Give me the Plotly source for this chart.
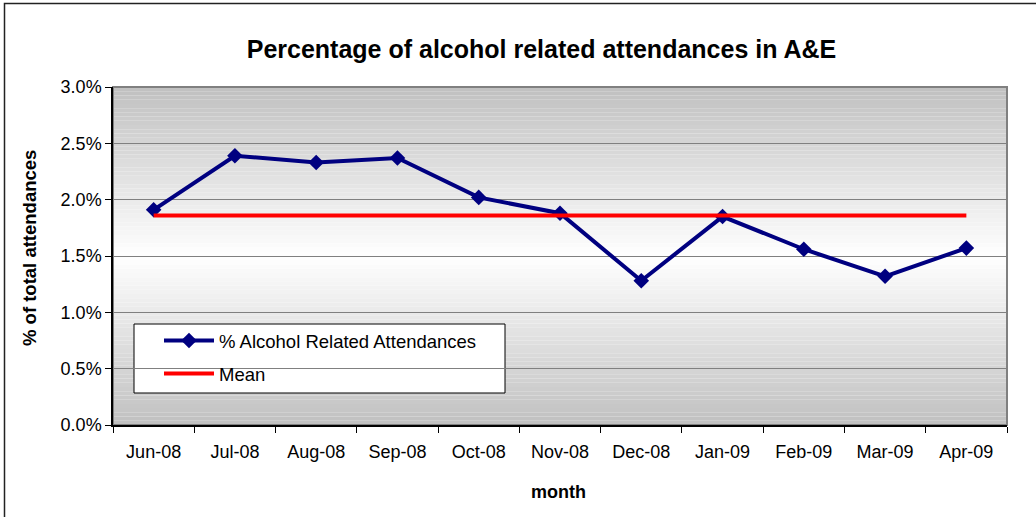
import plotly.graph_objects as go

months = ["Jun-08", "Jul-08", "Aug-08", "Sep-08", "Oct-08", "Nov-08",
          "Dec-08", "Jan-09", "Feb-09", "Mar-09", "Apr-09"]
pct_alcohol = [1.91, 2.39, 2.33, 2.37, 2.02, 1.88, 1.28, 1.85, 1.56, 1.32, 1.57]
mean_pct = [1.86] * len(months)
y_ticks = [0.0, 0.5, 1.0, 1.5, 2.0, 2.5, 3.0]

FONT = "Liberation Sans, Arial, sans-serif"

fig = go.Figure()
fig.add_trace(go.Scatter(
    x=months, y=pct_alcohol, name="% Alcohol Related Attendances",
    mode="lines+markers", legendgroup="a",
    line=dict(color="#000080", width=4),
    marker=dict(symbol="diamond", size=12, color="#000080"),
))
fig.add_trace(go.Scatter(
    x=months, y=mean_pct, name="Mean", mode="lines", legendgroup="b",
    line=dict(color="#FF0000", width=4),
))

shapes = []
N = 80
for i in range(N):
    t = (i + 0.5) / N
    d = abs(t - 0.5) * 2
    v = int(round(255 - (255 - 192) * d))
    shapes.append(dict(type="rect", xref="x domain", yref="y domain",
                       x0=0, x1=1, y0=i / N, y1=(i + 1) / N,
                       fillcolor=f"rgb({v},{v},{v})", line=dict(width=0),
                       layer="below"))
# plot border (top/right gray)
shapes.append(dict(type="rect", xref="x domain", yref="y domain",
                   x0=0, x1=1, y0=0, y1=1, line=dict(color="#808080", width=2),
                   layer="below"))
# legend box
PW, PH = 894, 338
shapes.append(dict(type="rect", xref="paper", yref="paper",
                   x0=(134 - 113) / PW, x1=(505 - 113) / PW,
                   y0=(425 - 393) / PH, y1=(425 - 324) / PH,
                   fillcolor="white", line=dict(color="black", width=1),
                   layer="between"))
# outer chart frame
shapes.append(dict(type="rect", xref="paper", yref="paper",
                   x0=(4.5 - 113) / PW, x1=(1060 - 113) / PW,
                   y0=(425 - 540) / PH, y1=(425 - 3.5) / PH,
                   line=dict(color="#222222", width=1.5), layer="above"))

fig.update_layout(
    width=1036, height=517,
    margin=dict(l=113, r=29, t=87, b=92),
    paper_bgcolor="white", plot_bgcolor="rgba(0,0,0,0)",
    font=dict(family=FONT, size=18, color="black"),
    title=dict(text="<b>Percentage of alcohol related attendances in A&E</b>",
               x=541.5 / 1036, xanchor="center", y=1 - 49.5 / 517, yanchor="middle",
               font=dict(size=25, family=FONT, color="black")),
    showlegend=True,
    legend=dict(x=(159 - 113) / PW, y=(425 - 322) / PH, xanchor="left", yanchor="top",
                bgcolor="rgba(0,0,0,0)", borderwidth=0,
                traceorder="grouped", tracegroupgap=6, itemwidth=50,
                font=dict(size=18.5, family=FONT, color="black")),
    shapes=shapes,
    annotations=[
        dict(text="<b>% of total attendances</b>", xref="paper", yref="paper",
             x=(29 - 113) / PW, y=(425 - 248) / PH, textangle=-90, showarrow=False,
             xanchor="center", yanchor="middle",
             font=dict(size=18.5, family=FONT, color="black")),
        dict(text="<b>month</b>", xref="paper", yref="paper",
             x=(558 - 113) / PW, y=(425 - 492) / PH, showarrow=False,
             xanchor="center", yanchor="middle",
             font=dict(size=18, family=FONT, color="black")),
    ],
)
fig.update_xaxes(type="category", range=[-0.5, 10.5], showgrid=False,
                 showline=True, linecolor="black", linewidth=1.5,
                 ticks="outside", tickson="boundaries", ticklen=6,
                 tickcolor="black", tickfont=dict(size=18),
                 ticklabelstandoff=10)
fig.update_yaxes(range=[0, 3], tickvals=y_ticks,
                 ticktext=[f"{v:.1f}%" for v in y_ticks],
                 showgrid=True, gridcolor="#808080", gridwidth=1,
                 showline=True, linecolor="black", linewidth=1.5,
                 ticks="outside", ticklen=6, tickcolor="black",
                 zeroline=False, tickfont=dict(size=18))

fig.write_html("out.html")
